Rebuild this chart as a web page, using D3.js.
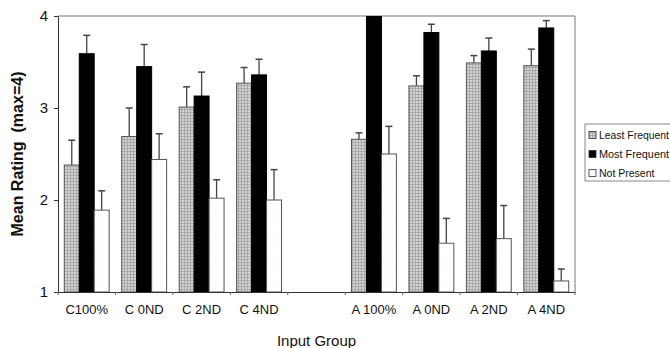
<!DOCTYPE html>
<html>
<head>
<meta charset="utf-8">
<script src="https://cdn.jsdelivr.net/npm/d3@7"></script>
<style>
  body { margin: 0; background: #fff; }
  text { font-family: Arial, "Liberation Sans", sans-serif; fill: #111; }
</style>
</head>
<body>
<div id="chart"></div>
<script>
// groups (the blank slot is the gap between C and A groups)
const groups = ["C100%", "C 0ND", "C 2ND", "C 4ND", "gap", "A 100%", "A 0ND", "A 2ND", "A 4ND"];
const series = ["Least Frequent", "Most Frequent", "Not Present"];

// means and upper error-bar tops, per series, in group order (null = gap)
const leastFreq    = [2.38, 2.69, 3.01, 3.27, null, 2.66, 3.24, 3.49, 3.46];
const leastFreqErr = [2.65, 3.00, 3.23, 3.44, null, 2.73, 3.35, 3.57, 3.64];
const mostFreq     = [3.59, 3.45, 3.13, 3.36, null, 4.08, 3.82, 3.62, 3.87];
const mostFreqErr  = [3.79, 3.69, 3.39, 3.53, null, 4.25, 3.91, 3.76, 3.95];
const notPresent   = [1.89, 2.44, 2.02, 2.00, null, 2.50, 1.53, 1.58, 1.12];
const notPresentErr= [2.10, 2.72, 2.22, 2.33, null, 2.80, 1.80, 1.94, 1.25];

const yTicks = [1, 2, 3, 4];

const W = 670, H = 348;
const margin = { top: 16, right: 95, bottom: 56, left: 58 };
const width = 575 - margin.left;
const height = 292 - margin.top;

const svg = d3.select("#chart").append("svg")
  .attr("width", W).attr("height", H);

// patterns
const defs = svg.append("defs");
const grid = defs.append("pattern")
  .attr("id", "grid").attr("patternUnits", "userSpaceOnUse")
  .attr("width", 3).attr("height", 3);
grid.append("rect").attr("width", 3).attr("height", 3).attr("fill", "#d4d4d4");
grid.append("path").attr("d", "M0,0.5H3M0.5,0V3").attr("stroke", "#a8a8a8").attr("stroke-width", 1);

const dots = defs.append("pattern")
  .attr("id", "dots").attr("patternUnits", "userSpaceOnUse")
  .attr("width", 6).attr("height", 6);
dots.append("rect").attr("width", 6).attr("height", 6).attr("fill", "#fff");
dots.append("rect").attr("x", 1).attr("y", 1).attr("width", 1).attr("height", 1).attr("fill", "#eee");

defs.append("clipPath").attr("id", "plotclip")
  .append("rect").attr("width", width).attr("height", height);

const g = svg.append("g").attr("transform", `translate(${margin.left},${margin.top})`);

const x = d3.scaleBand().domain(groups).range([0, width]).padding(0);
const xSub = d3.scaleBand().domain(series).range([0, x.bandwidth()]).paddingInner(0).paddingOuter(0.42);
const y = d3.scaleLinear().domain([1, 4]).range([height, 0]);

const fills = { "Least Frequent": "url(#grid)", "Most Frequent": "#000", "Not Present": "url(#dots)" };
const values = { "Least Frequent": leastFreq, "Most Frequent": mostFreq, "Not Present": notPresent };
const errs = { "Least Frequent": leastFreqErr, "Most Frequent": mostFreqErr, "Not Present": notPresentErr };

const rows = [];
groups.forEach((grp, i) => {
  series.forEach(s => {
    if (values[s][i] != null) rows.push({ grp, s, v: values[s][i], e: errs[s][i] });
  });
});

// frame (top and right)
g.append("path")
  .attr("d", `M0,0H${width}V${height}`)
  .attr("fill", "none").attr("stroke", "#777").attr("stroke-width", 1);

const plot = g.append("g").attr("clip-path", "url(#plotclip)");

// error bars (upper only)
const eb = plot.selectAll(".err").data(rows).enter().append("g");
eb.append("line")
  .attr("x1", d => x(d.grp) + xSub(d.s) + xSub.bandwidth() / 2)
  .attr("x2", d => x(d.grp) + xSub(d.s) + xSub.bandwidth() / 2)
  .attr("y1", d => y(d.v)).attr("y2", d => y(d.e))
  .attr("stroke", "#444").attr("stroke-width", 1.3);
eb.append("line")
  .attr("x1", d => x(d.grp) + xSub(d.s) + xSub.bandwidth() / 2 - 3.5)
  .attr("x2", d => x(d.grp) + xSub(d.s) + xSub.bandwidth() / 2 + 3.5)
  .attr("y1", d => y(d.e)).attr("y2", d => y(d.e))
  .attr("stroke", "#444").attr("stroke-width", 1.5);

// bars
plot.selectAll(".bar").data(rows).enter().append("rect")
  .attr("x", d => x(d.grp) + xSub(d.s))
  .attr("y", d => y(d.v))
  .attr("width", xSub.bandwidth())
  .attr("height", d => height - y(d.v))
  .attr("fill", d => fills[d.s])
  .attr("stroke", d => d.s === "Most Frequent" ? "#000" : "#555")
  .attr("stroke-width", 1);

// y axis
const yAxis = g.append("g")
  .call(d3.axisLeft(y).tickValues(yTicks).tickSize(4).tickPadding(6).tickFormat(d3.format("d")));
yAxis.select(".domain").attr("stroke", "#333");
yAxis.selectAll(".tick line").attr("stroke", "#333");
yAxis.selectAll("text").style("font-size", "15px").attr("fill", "#222");

// x axis: ticks at band boundaries, labels centred
const xAxis = g.append("g").attr("transform", `translate(0,${height})`)
  .call(d3.axisBottom(x).tickSize(0).tickPadding(13).tickFormat(d => d === "gap" ? "" : d));
xAxis.select(".domain").attr("stroke", "#333");
xAxis.selectAll("text").style("font-size", "13px").attr("fill", "#222");
xAxis.selectAll(".bound").data(groups.concat(["end"])).enter().append("line")
  .attr("x1", (d, i) => i < groups.length ? x(d) : width)
  .attr("x2", (d, i) => i < groups.length ? x(d) : width)
  .attr("y1", 0).attr("y2", 3)
  .attr("stroke", "#666");

// axis titles
svg.append("text")
  .attr("x", margin.left + width / 2).attr("y", 346)
  .attr("text-anchor", "middle")
  .style("font-size", "15px")
  .text("Input Group");

svg.append("text")
  .attr("transform", `translate(23,${margin.top + height / 2}) rotate(-90)`)
  .attr("text-anchor", "middle")
  .style("font-size", "16px").style("font-weight", "bold")
  .attr("xml:space", "preserve")
  .text("Mean Rating  (max=4)");

// legend
const legend = svg.append("g").attr("transform", "translate(585,124)");
legend.append("rect")
  .attr("width", 100).attr("height", 57)
  .attr("fill", "#fff").attr("stroke", "#888");
const li = legend.selectAll(".li").data(series).enter().append("g")
  .attr("transform", (d, i) => `translate(4,${11 + i * 19})`);
li.append("rect")
  .attr("y", -3.5).attr("width", 7).attr("height", 7)
  .attr("fill", d => fills[d]).attr("stroke", "#333").attr("stroke-width", 0.8);
li.append("text")
  .attr("x", 10).attr("y", 0).attr("dy", "0.35em")
  .style("font-size", "10.5px")
  .attr("textLength", d => d === "Not Present" ? null : 70)
  .attr("lengthAdjust", "spacingAndGlyphs")
  .text(d => d);
</script>
</body>
</html>
